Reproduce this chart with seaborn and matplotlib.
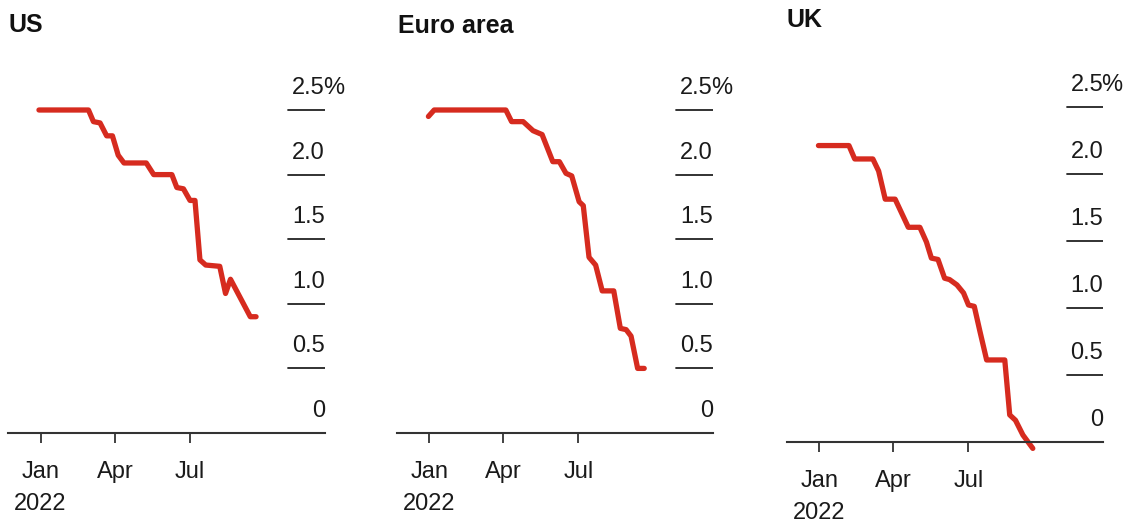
import matplotlib
matplotlib.use("Agg")
import matplotlib.pyplot as plt
import matplotlib.transforms as mtransforms
import pandas as pd
import seaborn as sns

# ---- data -------------------------------------------------------------
us_dates = ["2021-12-30", "2022-02-28", "2022-03-06", "2022-03-14", "2022-03-22",
            "2022-03-29", "2022-04-05", "2022-04-12", "2022-05-09", "2022-05-18",
            "2022-06-09", "2022-06-15", "2022-06-23", "2022-07-01", "2022-07-07",
            "2022-07-13", "2022-07-20", "2022-08-06", "2022-08-13", "2022-08-19",
            "2022-09-12", "2022-09-19"]
us_values = [2.50, 2.50, 2.41, 2.40, 2.30, 2.30, 2.15, 2.09, 2.09, 2.00,
             2.00, 1.90, 1.89, 1.80, 1.80, 1.34, 1.30, 1.29, 1.08, 1.19,
             0.90, 0.90]

euro_dates = ["2021-12-31", "2022-01-07", "2022-04-04", "2022-04-11", "2022-04-25",
              "2022-05-07", "2022-05-18", "2022-05-31", "2022-06-08", "2022-06-16",
              "2022-06-23", "2022-07-02", "2022-07-07", "2022-07-14", "2022-07-22",
              "2022-07-30", "2022-08-13", "2022-08-21", "2022-08-28", "2022-09-03",
              "2022-09-11", "2022-09-19"]
euro_values = [2.45, 2.50, 2.50, 2.41, 2.41, 2.34, 2.31, 2.10, 2.10, 2.01,
               1.99, 1.79, 1.76, 1.36, 1.30, 1.10, 1.10, 0.81, 0.80, 0.75,
               0.50, 0.50]

uk_dates = ["2021-12-31", "2022-02-06", "2022-02-13", "2022-03-07", "2022-03-14",
            "2022-03-22", "2022-04-03", "2022-04-19", "2022-05-03", "2022-05-11",
            "2022-05-17", "2022-05-25", "2022-06-02", "2022-06-08", "2022-06-17",
            "2022-06-25", "2022-07-01", "2022-07-08", "2022-07-15", "2022-07-23",
            "2022-08-14", "2022-08-20", "2022-08-27", "2022-09-05", "2022-09-17"]
uk_values = [2.21, 2.21, 2.11, 2.11, 2.02, 1.81, 1.81, 1.60, 1.60, 1.49,
             1.37, 1.36, 1.22, 1.21, 1.17, 1.11, 1.02, 1.01, 0.82, 0.61,
             0.61, 0.20, 0.16, 0.05, -0.05]

panel_titles = ["US", "Euro area", "UK"]
tick_dates = ["2022-01-01", "2022-04-01", "2022-07-01"]
tick_labels = ["Jan\n2022", "Apr", "Jul"]
grid_values = [0.5, 1.0, 1.5, 2.0, 2.5]
label_values = [0, 0.5, 1.0, 1.5, 2.0, 2.5]
label_texts = ["0", "0.5", "1.0", "1.5", "2.0", "2.5"]

# ---- style ------------------------------------------------------------
sns.set_theme(style="white")
plt.rcParams["font.family"] = ["Liberation Sans", "DejaVu Sans"]

RED = "#d62b1f"
INK = "#1a1a1a"
AXIS = "#333333"

W, H = 1134, 525
fig = plt.figure(figsize=(W / 100, H / 100), dpi=100)

x_start = pd.Timestamp("2022-01-01") - pd.Timedelta(days=39.5)
x_end = pd.Timestamp("2022-01-01") + pd.Timedelta(days=344.5)
y_top = 2.8

# left px, right px, zero-line px, px per unit, title x px, title baseline px
layout = [
    (8.0, 325.0, 433.0, 129.2, 8.0, 32.0),
    (396.7, 713.0, 433.0, 129.2, 398.0, 33.0),
    (786.7, 1103.3, 441.7, 134.0, 786.7, 27.0),
]
series = [(us_dates, us_values), (euro_dates, euro_values), (uk_dates, uk_values)]

for (left, right, zero_px, ppu, tx, tb), (dates, values), title in zip(layout, series, panel_titles):
    top_px = zero_px - y_top * ppu
    ax = fig.add_axes([left / W, 1 - zero_px / H, (right - left) / W, (zero_px - top_px) / H])
    df = pd.DataFrame({"date": pd.to_datetime(dates), "value": values})
    sns.lineplot(data=df, x="date", y="value", ax=ax, color=RED, linewidth=3.8)
    for ln in ax.lines:
        ln.set_clip_on(False)
        ln.set_solid_capstyle("round")
        ln.set_solid_joinstyle("round")

    ax.set_xlim(x_start, x_end)
    ax.set_ylim(0, y_top)
    ax.set_xlabel("")
    ax.set_ylabel("")
    ax.set_yticks([])
    for side in ("top", "left", "right"):
        ax.spines[side].set_visible(False)
    ax.spines["bottom"].set_color(AXIS)
    ax.spines["bottom"].set_linewidth(1.5)
    ax.set_facecolor("none")

    ax.set_xticks(pd.to_datetime(tick_dates))
    ax.set_xticklabels(tick_labels)
    ax.tick_params(axis="x", bottom=True, direction="out", length=7.5, width=1.3,
                   color=AXIS, pad=13, labelsize=17, labelcolor=INK)
    for lbl in ax.get_xticklabels():
        lbl.set_linespacing(1.55)

    # short right-hand gridlines
    for v in grid_values:
        ax.axhline(v, xmin=0.884, xmax=1.0, color="#222222", lw=1.3)

    # value labels sitting above each gridline
    trans = mtransforms.offset_copy(ax.get_yaxis_transform(), fig=fig, x=0, y=16, units="dots")
    pct_trans = mtransforms.offset_copy(ax.get_yaxis_transform(), fig=fig, x=-2, y=16, units="dots")
    for v, t in zip(label_values, label_texts):
        ax.text(1.0, v, t, transform=trans, ha="right", va="baseline",
                fontsize=17, color=INK)
        if v == label_values[-1]:
            ax.text(1.0, v, "%", transform=pct_trans, ha="left", va="baseline",
                    fontsize=17, color=INK)

    fig.text(tx / W, 1 - tb / H, title, fontsize=18, fontweight="bold",
             color="#111111", ha="left", va="baseline")

fig.savefig("out.png", dpi=100, facecolor="white")
